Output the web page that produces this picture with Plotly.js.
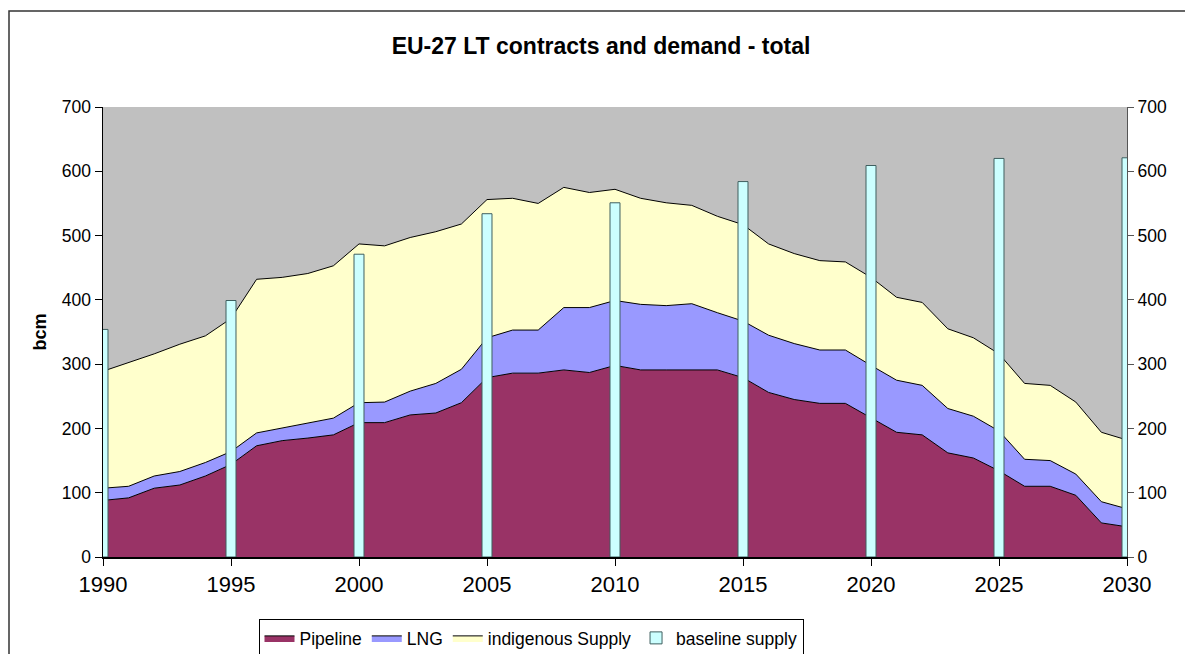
<!DOCTYPE html>
<html>
<head>
<meta charset="utf-8">
<script src="https://cdn.plot.ly/plotly-3.0.1.min.js"></script>
<style>
html,body{margin:0;padding:0;background:#fff;}
#chart{width:1185px;height:654px;}
</style>
</head>
<body>
<div id="chart"></div>
<script>
// ---- data (bcm) ----
var years = [1990,1991,1992,1993,1994,1995,1996,1997,1998,1999,
             2000,2001,2002,2003,2004,2005,2006,2007,2008,2009,
             2010,2011,2012,2013,2014,2015,2016,2017,2018,2019,
             2020,2021,2022,2023,2024,2025,2026,2027,2028,2029,2030];

var pipeline = [88,92,107,112,126,144,173,181,185,190,
                209,209,221,224,240,279,286,286,291,287,
                298,291,291,291,291,279,256,245,239,239,
                217,194,190,162,154,134,110,110,96,53,47];

var lng = [19,18,19,21,21,20,20,20,23,26,
           31,32,37,46,52,62,67,67,97,101,
           101,102,100,103,89,88,89,87,83,83,
           81,81,77,69,65,62,42,40,33,33,28];

var indigenous = [182,192,190,198,197,207,239,234,233,237,
                  247,243,239,236,226,215,205,197,187,179,
                  173,165,160,153,150,150,142,140,139,137,
                  137,129,129,124,122,120,118,117,112,108,107];

var baselineYears = [1990,1995,2000,2005,2010,2015,2020,2025,2030];
var baseline = [354,399,471,534,551,584,609,620,621];

var seriesNames = ["Pipeline","LNG","indigenous Supply","baseline supply"];
var titleText = "EU-27 LT contracts and demand - total";
var yTitle = "bcm";

// ---- chart ----
var FONT = "Liberation Sans, Arial, sans-serif";

function areaTrace(name, vals, color){
  return {
    type: "scatter", mode: "lines", name: name,
    x: years, y: vals, stackgroup: "one",
    line: {color: "#000000", width: 1},
    fillcolor: color,
    hoverinfo: "x+y+name"
  };
}

var traces = [
  areaTrace(seriesNames[0], pipeline, "#993366"),
  areaTrace(seriesNames[1], lng, "#9999FF"),
  areaTrace(seriesNames[2], indigenous, "#FFFFCC"),
  {
    type: "bar", name: seriesNames[3],
    x: baselineYears, y: baseline,
    xaxis: "x2", yaxis: "y2",
    width: 0.39,
    marker: {color: "#CCFFFF", line: {color: "#3F5F5F", width: 1}}
  }
];

var W = 1185, H = 654;
var L = 103, R = 1127, T = 107, B = 557;
function px(x){ return (x - L) / (R - L); }
function py(y){ return (B - y) / (B - T); }

var layout = {
  width: W, height: H,
  margin: {l: L, r: W - R, t: T, b: H - B, pad: 0, autoexpand: false},
  paper_bgcolor: "#FFFFFF",
  plot_bgcolor: "#C0C0C0",
  font: {family: FONT, color: "#000000"},
  showlegend: true,
  title: {
    text: titleText,
    font: {family: FONT, size: 23, weight: "bold", color: "#000000"},
    x: 601 / W, xanchor: "center",
    y: 1 - 46 / H, yanchor: "middle"
  },
  xaxis: {
    range: [1990, 2030], tick0: 1990, dtick: 5,
    showgrid: false, zeroline: false,
    showline: true, linecolor: "#000000", linewidth: 1.5,
    ticks: "outside", ticklen: 7, tickcolor: "#000000", tickwidth: 1,
    tickfont: {family: FONT, size: 22, color: "#000000"},
    fixedrange: true
  },
  yaxis: {
    range: [0, 700], dtick: 100,
    showgrid: false, zeroline: false,
    showline: true, linecolor: "#000000", linewidth: 1.5,
    ticks: "outside", ticklen: 7, tickcolor: "#000000", tickwidth: 1,
    tickfont: {family: FONT, size: 17.5, color: "#000000"},
    title: {text: yTitle, standoff: 10,
            font: {family: FONT, size: 18, weight: "bold", color: "#000000"}},
    fixedrange: true
  },
  xaxis2: {
    overlaying: "x", range: [1990, 2030], visible: false, fixedrange: true
  },
  yaxis2: {
    overlaying: "y", side: "right", range: [0, 700], dtick: 100,
    showgrid: false, zeroline: false,
    showline: true, linecolor: "#555555", linewidth: 1,
    ticks: "outside", ticklen: 6, tickcolor: "#555555", tickwidth: 1,
    tickfont: {family: FONT, size: 17.5, color: "#000000"},
    fixedrange: true
  },
  legend: {
    orientation: "h", traceorder: "normal",
    x: px(531), xanchor: "center",
    y: py(619), yanchor: "top",
    bgcolor: "#FFFFFF", bordercolor: "#000000", borderwidth: 1,
    font: {family: FONT, size: 17.5, color: "#000000"},
    itemwidth: 30
  },
  shapes: [{
    type: "rect", xref: "paper", yref: "paper",
    x0: px(9), x1: px(1192), y0: py(662), y1: py(11),
    line: {color: "#333333", width: 1.5}, fillcolor: "rgba(0,0,0,0)",
    layer: "below"
  }],
  bargap: 0
};

Plotly.newPlot("chart", traces, layout, {displayModeBar: false, staticPlot: true});
</script>
</body>
</html>
